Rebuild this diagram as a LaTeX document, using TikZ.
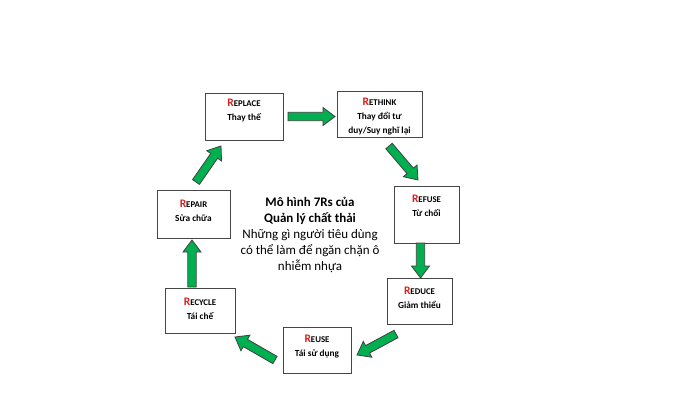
\documentclass[tikz,border=0pt]{standalone}
\usepackage{fontspec}
\setmainfont{Carlito}
\usetikzlibrary{calc}
\definecolor{arrgreen}{RGB}{0,176,80}
\definecolor{rred}{RGB}{220,30,30}
\definecolor{boxline}{RGB}{70,70,70}
\newcommand\rname[1]{{\color{rred}\fontsize{11.5}{12}\selectfont R}{\fontsize{8.8}{12}\selectfont #1}}
\newcommand\blockarr[2]{%
  \coordinate (tmpn) at ($(#2)!12pt!(#1)$);
  \draw[blockarrow] ($(#1)!4.2pt!90:(#2)$) -- ($(tmpn)!4.2pt!90:(#2)$) -- ($(tmpn)!9pt!90:(#2)$) -- (#2) -- ($(tmpn)!9pt!-90:(#2)$) -- ($(tmpn)!4.2pt!-90:(#2)$) -- ($(#1)!4.2pt!-90:(#2)$) -- cycle;}
\begin{document}
\begin{tikzpicture}[x=1pt,y=-1pt,
  box/.style={draw=boxline, line width=0.9pt, fill=white, inner sep=0pt},
  boxtext/.style={font=\bfseries\fontsize{9.3}{14}\selectfont, align=center, inner sep=0pt},
  blockarrow/.style={fill=arrgreen, draw=black!75, line width=0.8pt, line join=miter},
  centertext/.style={font=\fontsize{13}{16}\selectfont, align=center, inner sep=0pt}]
\useasboundingbox[fill=white] (0,0) rectangle (680,418);
% boxes
\node[box, minimum width=78pt, minimum height=47pt] (replace) at (244,116.5) {};
\node[box, minimum width=85pt, minimum height=46pt] (rethink) at (379.5,114) {};
\node[box, minimum width=65pt, minimum height=57pt] (refuse) at (426.5,214.5) {};
\node[box, minimum width=65pt, minimum height=46pt] (reduce) at (419.5,301) {};
\node[box, minimum width=68pt, minimum height=46pt] (reuse) at (317,350) {};
\node[box, minimum width=70pt, minimum height=45pt] (recycle) at (200,310.5) {};
\node[box, minimum width=73pt, minimum height=48pt] (repair) at (193.5,214) {};
% texts
\node[boxtext] (replaceT) at (244,110.5) {\rname{EPLACE}\\Thay thế};
\node[boxtext] (rethinkT) at (379.5,116.5) {\rname{ETHINK}\\Thay đổi tư\\duy/Suy nghĩ lại};
\node[boxtext] (refuseT) at (426.5,206) {\rname{EFUSE}\\Từ chối};
\node[boxtext] (reduceT) at (419.5,297.5) {\rname{EDUCE}\\Giảm thiểu};
\node[boxtext] (reuseT) at (317,346.5) {\rname{EUSE}\\Tái sử dụng};
\node[boxtext] (recycleT) at (200,308.5) {\rname{ECYCLE}\\Tái chế};
\node[boxtext] (repairT) at (193.5,210.5) {\rname{EPAIR}\\Sửa chữa};
% center text
\node[centertext] (center) at (310,235) {\textbf{Mô hình 7Rs của}\\\textbf{Quản lý chất thải}\\Những gì người tiêu dùng\\có thể làm để ngăn chặn ô\\nhiễm nhựa};
% arrows
\coordinate (a1s) at (288,116.5);
\coordinate (a1e) at (335,116.5);
\coordinate (a2s) at (389,146);
\coordinate (a2e) at (418,180);
\coordinate (a3s) at (420.5,243);
\coordinate (a3e) at (420.5,278);
\coordinate (a4s) at (396,334);
\coordinate (a4e) at (357,355);
\coordinate (a5s) at (275,360);
\coordinate (a5e) at (235,337);
\coordinate (a6s) at (192,287);
\coordinate (a6e) at (192,240);
\coordinate (a7s) at (196,182);
\coordinate (a7e) at (221,146);
\blockarr{a1s}{a1e}
\blockarr{a2s}{a2e}
\blockarr{a3s}{a3e}
\blockarr{a4s}{a4e}
\blockarr{a5s}{a5e}
\blockarr{a6s}{a6e}
\blockarr{a7s}{a7e}
\end{tikzpicture}
\end{document}
